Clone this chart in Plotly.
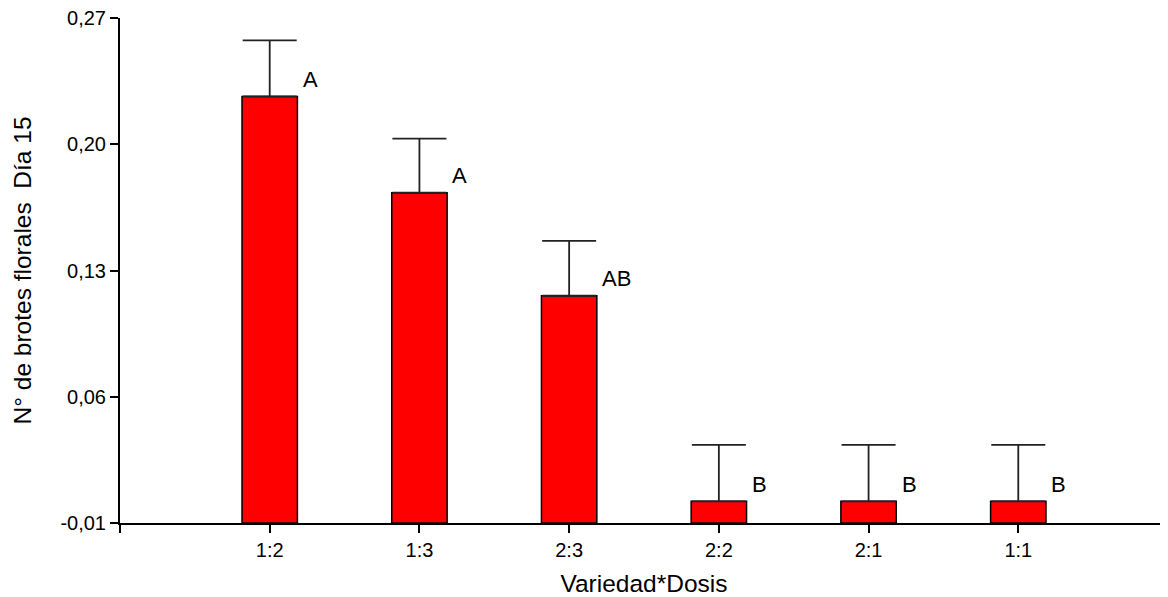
import plotly.graph_objects as go

categories = ["1:2", "1:3", "2:3", "2:2", "2:1", "1:1"]
means = [0.2265, 0.1731, 0.1160, 0.0020, 0.0020, 0.0020]
errors = [0.0311, 0.0300, 0.0304, 0.0313, 0.0313, 0.0313]
letters = ["A", "A", "AB", "B", "B", "B"]
y_ticks = [-0.01, 0.06, 0.13, 0.20, 0.27]
y_ticktext = ["-0,01", "0,06", "0,13", "0,20", "0,27"]

axis_base = -0.01
xpos = list(range(len(categories)))
FONT = "Arial, Liberation Sans, sans-serif"

fig = go.Figure()
fig.add_trace(go.Bar(
    x=xpos, y=[m - axis_base for m in means], base=axis_base,
    width=0.37, marker=dict(color="#FF0000", line=dict(color="#000000", width=1.5)),
    showlegend=False, hoverinfo="skip",
))
fig.add_trace(go.Scatter(
    x=xpos, y=means, mode="markers", marker=dict(size=1, opacity=0),
    error_y=dict(type="data", array=errors, arrayminus=[0] * len(errors), symmetric=False,
                 color="#222222", thickness=1.8, width=27),
    showlegend=False, hoverinfo="skip",
))
for i, (m, e, lab) in enumerate(zip(means, errors, letters)):
    fig.add_annotation(x=i, y=m, text=lab, showarrow=False, xanchor="left", yanchor="middle",
                       xshift=31, yshift=17, font=dict(family=FONT, size=22, color="#000"))

fig.update_layout(
    width=1160, height=589, plot_bgcolor="white", paper_bgcolor="white",
    margin=dict(l=112, r=0, t=10, b=74),
    font=dict(family=FONT, size=20, color="#000"),
    xaxis=dict(range=[-1, 6], tickmode="array", tickvals=xpos + [-1, 6],
               ticktext=categories + ["", ""], showgrid=False, zeroline=False,
               showline=True, linecolor="#000", linewidth=2, ticks="outside",
               ticklen=8, tickwidth=2, tickcolor="#000", ticklabeloverflow="allow",
               title=dict(text="Variedad*Dosis", font=dict(size=24.5), standoff=15)),
    yaxis=dict(range=[-0.01, 0.27], tickmode="array", tickvals=y_ticks, ticktext=y_ticktext,
               showgrid=False, zeroline=False, showline=True, linecolor="#000", linewidth=2,
               ticks="outside", ticklen=8, tickwidth=2, tickcolor="#000", ticklabeloverflow="allow",
               title=dict(text="N° de brotes florales  Día 15", font=dict(size=24.5), standoff=22)),
)
fig.write_html("out.html")
